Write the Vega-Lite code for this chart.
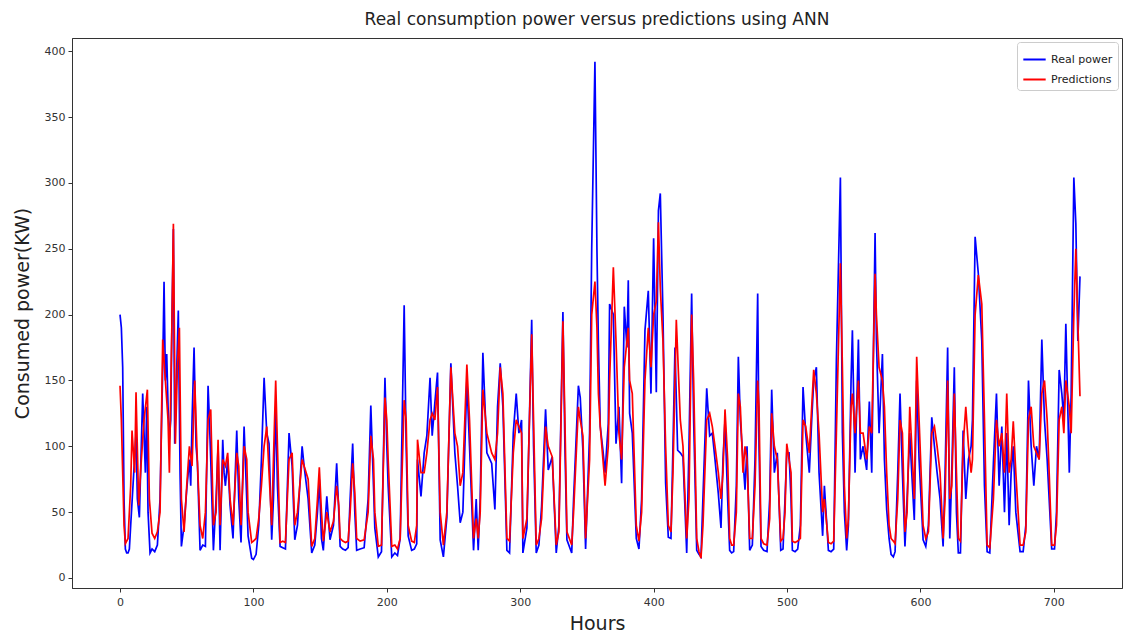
{
  "$schema": "https://vega.github.io/schema/vega-lite/v6.json",
  "autosize": {"type": "none"},
  "padding": {"left": 72, "top": 38, "right": 2, "bottom": 44},
  "width": 1050,
  "height": 550,
  "background": "white",
  "title": {"text": "Real consumption power versus predictions using ANN", "font": "DejaVu Sans", "fontSize": 17, "fontWeight": "normal", "color": "#222", "anchor": "middle", "offset": 9},
  "config": {
    "view": {"stroke": "#333", "strokeWidth": 1},
    "axis": {"labelFont": "DejaVu Sans", "labelFontSize": 11, "labelColor": "#333", "tickColor": "#333", "tickSize": 4, "domainColor": "#333", "grid": false, "titleFont": "DejaVu Sans", "titleFontSize": 19, "titleFontWeight": "normal", "titleColor": "#222"},
    "legend": {"labelFont": "DejaVu Sans", "labelFontSize": 11, "labelColor": "#222"}
  },
  "datasets": {
    "real": [
      {"hour":0,"power":200},{"hour":1,"power":190},{"hour":2,"power":160},{"hour":3,"power":60},{"hour":4,"power":22},{"hour":5,"power":19},{"hour":6,"power":19},{"hour":7,"power":22},{"hour":8,"power":40},{"hour":10,"power":75},{"hour":12,"power":110},{"hour":13,"power":60},{"hour":14.5,"power":46},{"hour":17,"power":140},{"hour":18,"power":110},{"hour":19,"power":80},{"hour":20,"power":130},{"hour":21,"power":50},{"hour":22.5,"power":19},{"hour":24,"power":22},{"hour":26,"power":20},{"hour":28,"power":25},{"hour":30,"power":60},{"hour":32,"power":160},{"hour":33,"power":225},{"hour":34,"power":150},{"hour":35,"power":170},{"hour":36,"power":130},{"hour":37,"power":105},{"hour":38,"power":120},{"hour":39,"power":200},{"hour":40,"power":265},{"hour":41,"power":102},{"hour":42,"power":140},{"hour":43.7,"power":203},{"hour":45,"power":80},{"hour":46,"power":24},{"hour":48,"power":40},{"hour":50,"power":67},{"hour":52,"power":90},{"hour":53,"power":70},{"hour":54,"power":120},{"hour":55.5,"power":175},{"hour":57,"power":100},{"hour":58,"power":88},{"hour":60,"power":21},{"hour":62,"power":25},{"hour":64,"power":24},{"hour":66,"power":146},{"hour":67,"power":120},{"hour":68,"power":90},{"hour":70,"power":21},{"hour":72,"power":60},{"hour":73.5,"power":100},{"hour":75,"power":21},{"hour":77,"power":105},{"hour":78,"power":80},{"hour":79,"power":70},{"hour":80.7,"power":90},{"hour":82.5,"power":55},{"hour":84.7,"power":30},{"hour":87.5,"power":112},{"hour":89,"power":60},{"hour":90.7,"power":27},{"hour":93,"power":115},{"hour":95,"power":60},{"hour":96,"power":32},{"hour":98.7,"power":15},{"hour":100,"power":14},{"hour":102,"power":18},{"hour":104,"power":40},{"hour":106,"power":90},{"hour":108,"power":152},{"hour":110,"power":110},{"hour":111.7,"power":102},{"hour":113.7,"power":29},{"hour":115,"power":60},{"hour":116.7,"power":130},{"hour":118,"power":70},{"hour":120,"power":24},{"hour":122,"power":23},{"hour":124,"power":22},{"hour":126.7,"power":110},{"hour":129,"power":85},{"hour":131,"power":29},{"hour":133,"power":40},{"hour":136.5,"power":100},{"hour":138,"power":85},{"hour":141,"power":60},{"hour":143.7,"power":19},{"hour":146,"power":25},{"hour":148,"power":50},{"hour":149.4,"power":75},{"hour":151,"power":30},{"hour":152.4,"power":21},{"hour":155,"power":62},{"hour":157.4,"power":29},{"hour":160,"power":40},{"hour":162.4,"power":87},{"hour":164,"power":50},{"hour":165,"power":24},{"hour":167,"power":22},{"hour":169,"power":21},{"hour":171,"power":23},{"hour":172.5,"power":60},{"hour":174.4,"power":102},{"hour":176,"power":50},{"hour":177.4,"power":21},{"hour":180,"power":22},{"hour":183,"power":23},{"hour":186,"power":60},{"hour":188,"power":131},{"hour":190,"power":70},{"hour":191,"power":38},{"hour":193.6,"power":16},{"hour":196,"power":20},{"hour":198.6,"power":152},{"hour":200,"power":100},{"hour":201,"power":70},{"hour":203.7,"power":16},{"hour":206,"power":19},{"hour":208,"power":17},{"hour":210,"power":30},{"hour":213,"power":207},{"hour":214.5,"power":100},{"hour":216,"power":32},{"hour":218.6,"power":21},{"hour":220.6,"power":22},{"hour":222.4,"power":26},{"hour":223,"power":90},{"hour":225.6,"power":62},{"hour":228,"power":95},{"hour":230,"power":108},{"hour":232.4,"power":152},{"hour":234,"power":108},{"hour":236,"power":133},{"hour":238,"power":156},{"hour":240,"power":29},{"hour":242.4,"power":16},{"hour":245,"power":46},{"hour":248,"power":163},{"hour":251,"power":95},{"hour":253,"power":70},{"hour":255,"power":42},{"hour":257,"power":50},{"hour":260,"power":150},{"hour":262,"power":100},{"hour":265,"power":21},{"hour":267,"power":60},{"hour":268.5,"power":21},{"hour":270,"power":60},{"hour":272,"power":171},{"hour":275,"power":95},{"hour":278.6,"power":87},{"hour":281,"power":52},{"hour":283,"power":130},{"hour":285,"power":163},{"hour":287,"power":130},{"hour":290,"power":21},{"hour":292,"power":19},{"hour":294.8,"power":110},{"hour":297,"power":140},{"hour":299,"power":110},{"hour":301,"power":120},{"hour":302,"power":19},{"hour":305,"power":38},{"hour":308.6,"power":196},{"hour":310,"power":100},{"hour":312,"power":19},{"hour":314,"power":25},{"hour":316,"power":54},{"hour":319,"power":128},{"hour":321,"power":82},{"hour":324,"power":92},{"hour":327,"power":19},{"hour":329,"power":40},{"hour":332,"power":202},{"hour":333.5,"power":100},{"hour":335,"power":29},{"hour":338.6,"power":19},{"hour":340,"power":60},{"hour":343.6,"power":146},{"hour":345,"power":137},{"hour":347,"power":97},{"hour":349,"power":22},{"hour":352,"power":110},{"hour":353.6,"power":251},{"hour":356,"power":392},{"hour":357.5,"power":250},{"hour":358.6,"power":178},{"hour":360,"power":115},{"hour":362,"power":97},{"hour":363.6,"power":80},{"hour":366,"power":117},{"hour":367,"power":208},{"hour":369.8,"power":200},{"hour":371.8,"power":102},{"hour":374,"power":130},{"hour":376,"power":72},{"hour":378,"power":206},{"hour":380,"power":175},{"hour":381,"power":226},{"hour":382,"power":125},{"hour":384,"power":110},{"hour":387,"power":30},{"hour":389,"power":22},{"hour":391,"power":60},{"hour":393.5,"power":188},{"hour":396,"power":218},{"hour":398,"power":140},{"hour":400,"power":258},{"hour":402,"power":141},{"hour":403.6,"power":279},{"hour":405,"power":292},{"hour":407,"power":200},{"hour":409,"power":72},{"hour":411,"power":31},{"hour":413,"power":30},{"hour":414.5,"power":100},{"hour":416,"power":175},{"hour":418,"power":97},{"hour":420,"power":95},{"hour":422,"power":92},{"hour":424.8,"power":19},{"hour":426.5,"power":100},{"hour":428.5,"power":216},{"hour":430,"power":120},{"hour":432.3,"power":21},{"hour":434,"power":18},{"hour":435.5,"power":16},{"hour":437,"power":62},{"hour":439.8,"power":144},{"hour":442,"power":108},{"hour":444,"power":110},{"hour":446,"power":90},{"hour":448.5,"power":64},{"hour":450.5,"power":38},{"hour":452,"power":90},{"hour":453.5,"power":120},{"hour":455.5,"power":60},{"hour":457,"power":21},{"hour":458.5,"power":19},{"hour":460,"power":20},{"hour":462,"power":70},{"hour":463.5,"power":168},{"hour":465,"power":120},{"hour":467,"power":90},{"hour":468.5,"power":67},{"hour":470,"power":100},{"hour":472,"power":21},{"hour":474,"power":25},{"hour":476,"power":90},{"hour":478,"power":216},{"hour":479,"power":100},{"hour":480.5,"power":24},{"hour":482.5,"power":21},{"hour":485,"power":20},{"hour":487,"power":60},{"hour":488.5,"power":143},{"hour":490.5,"power":80},{"hour":492.7,"power":95},{"hour":495.3,"power":21},{"hour":497,"power":22},{"hour":498.5,"power":60},{"hour":499.8,"power":95},{"hour":501.5,"power":95},{"hour":503,"power":60},{"hour":504,"power":21},{"hour":506,"power":20},{"hour":508,"power":22},{"hour":510,"power":40},{"hour":512,"power":145},{"hour":514,"power":110},{"hour":516.7,"power":80},{"hour":518.5,"power":120},{"hour":520,"power":150},{"hour":522,"power":160},{"hour":524,"power":80},{"hour":526.7,"power":32},{"hour":528,"power":70},{"hour":531,"power":21},{"hour":533,"power":20},{"hour":535,"power":22},{"hour":537,"power":165},{"hour":540,"power":304},{"hour":541.5,"power":110},{"hour":543,"power":50},{"hour":544.7,"power":21},{"hour":546,"power":40},{"hour":548,"power":150},{"hour":549,"power":188},{"hour":551,"power":80},{"hour":553.5,"power":181},{"hour":555,"power":90},{"hour":557,"power":100},{"hour":559.7,"power":82},{"hour":561.7,"power":134},{"hour":563.5,"power":80},{"hour":566,"power":262},{"hour":567,"power":181},{"hour":569,"power":110},{"hour":571.5,"power":170},{"hour":573,"power":90},{"hour":574.7,"power":52},{"hour":576.5,"power":30},{"hour":578,"power":18},{"hour":579.7,"power":16},{"hour":581,"power":20},{"hour":583,"power":80},{"hour":584.7,"power":140},{"hour":586.5,"power":80},{"hour":588.4,"power":24},{"hour":590,"power":60},{"hour":592,"power":110},{"hour":593.5,"power":80},{"hour":595.4,"power":44},{"hour":597.2,"power":150},{"hour":599,"power":90},{"hour":602,"power":29},{"hour":604,"power":24},{"hour":606,"power":40},{"hour":608.5,"power":122},{"hour":610.5,"power":100},{"hour":612.5,"power":80},{"hour":614.7,"power":60},{"hour":617,"power":24},{"hour":618.5,"power":80},{"hour":620.4,"power":175},{"hour":622,"power":30},{"hour":623.5,"power":80},{"hour":625.4,"power":160},{"hour":627,"power":50},{"hour":628.4,"power":19},{"hour":630,"power":19},{"hour":632,"power":112},{"hour":634,"power":60},{"hour":636,"power":90},{"hour":638,"power":100},{"hour":639,"power":120},{"hour":641,"power":259},{"hour":643.4,"power":231},{"hour":646,"power":180},{"hour":648,"power":70},{"hour":650,"power":20},{"hour":652,"power":19},{"hour":654.7,"power":87},{"hour":657,"power":140},{"hour":659,"power":70},{"hour":661,"power":115},{"hour":663,"power":50},{"hour":664.7,"power":110},{"hour":666.5,"power":40},{"hour":668,"power":80},{"hour":669.6,"power":100},{"hour":671.5,"power":50},{"hour":674.7,"power":20},{"hour":677,"power":20},{"hour":679,"power":40},{"hour":681,"power":150},{"hour":683,"power":100},{"hour":685,"power":70},{"hour":687,"power":100},{"hour":689,"power":90},{"hour":691,"power":181},{"hour":693,"power":120},{"hour":695,"power":90},{"hour":696.5,"power":60},{"hour":698.4,"power":22},{"hour":700.5,"power":22},{"hour":702,"power":50},{"hour":704,"power":158},{"hour":706,"power":140},{"hour":707.5,"power":120},{"hour":709,"power":193},{"hour":711.6,"power":80},{"hour":713,"power":140},{"hour":715,"power":304},{"hour":716.5,"power":269},{"hour":718,"power":180},{"hour":719.6,"power":229}
    ],
    "pred": [
      {"hour":0,"power":146},{"hour":1,"power":120},{"hour":2,"power":80},{"hour":3,"power":40},{"hour":4,"power":26},{"hour":6,"power":30},{"hour":8,"power":70},{"hour":9,"power":112},{"hour":11,"power":80},{"hour":12,"power":141},{"hour":14,"power":55},{"hour":16,"power":90},{"hour":18,"power":120},{"hour":20.5,"power":143},{"hour":22,"power":60},{"hour":24,"power":34},{"hour":26,"power":30},{"hour":28,"power":35},{"hour":30,"power":50},{"hour":32,"power":181},{"hour":34,"power":150},{"hour":36,"power":120},{"hour":37,"power":80},{"hour":39,"power":200},{"hour":40,"power":269},{"hour":41.5,"power":102},{"hour":43,"power":160},{"hour":44.5,"power":190},{"hour":46,"power":60},{"hour":48,"power":35},{"hour":50,"power":70},{"hour":52,"power":100},{"hour":54,"power":85},{"hour":56,"power":150},{"hour":58,"power":88},{"hour":60,"power":40},{"hour":62,"power":30},{"hour":64,"power":50},{"hour":66,"power":120},{"hour":68,"power":128},{"hour":70,"power":40},{"hour":72,"power":50},{"hour":73.5,"power":105},{"hour":75,"power":40},{"hour":77,"power":90},{"hour":79,"power":85},{"hour":80.7,"power":95},{"hour":82.5,"power":60},{"hour":84.7,"power":40},{"hour":87.5,"power":95},{"hour":89,"power":85},{"hour":90.7,"power":40},{"hour":93,"power":100},{"hour":95,"power":90},{"hour":96,"power":50},{"hour":98.7,"power":27},{"hour":100,"power":28},{"hour":102,"power":30},{"hour":104,"power":45},{"hour":106,"power":70},{"hour":108,"power":100},{"hour":110,"power":115},{"hour":111.7,"power":80},{"hour":113.7,"power":40},{"hour":115,"power":90},{"hour":116.7,"power":150},{"hour":118,"power":100},{"hour":120,"power":27},{"hour":122,"power":28},{"hour":124,"power":27},{"hour":126.7,"power":90},{"hour":129,"power":95},{"hour":131,"power":40},{"hour":133,"power":50},{"hour":136.5,"power":90},{"hour":138,"power":85},{"hour":141,"power":75},{"hour":143.7,"power":24},{"hour":146,"power":30},{"hour":148,"power":60},{"hour":149.4,"power":84},{"hour":151,"power":50},{"hour":152.4,"power":28},{"hour":155,"power":50},{"hour":157.4,"power":35},{"hour":160,"power":43},{"hour":162.4,"power":70},{"hour":164,"power":55},{"hour":165,"power":30},{"hour":167,"power":28},{"hour":169,"power":27},{"hour":171,"power":28},{"hour":172.5,"power":50},{"hour":174.4,"power":87},{"hour":176,"power":65},{"hour":177.4,"power":30},{"hour":180,"power":28},{"hour":183,"power":29},{"hour":186,"power":50},{"hour":188,"power":108},{"hour":190,"power":90},{"hour":191,"power":50},{"hour":193.6,"power":24},{"hour":196,"power":25},{"hour":198.6,"power":137},{"hour":200,"power":120},{"hour":201,"power":90},{"hour":203.7,"power":24},{"hour":206,"power":25},{"hour":208,"power":22},{"hour":210,"power":30},{"hour":213,"power":135},{"hour":214.5,"power":120},{"hour":216,"power":40},{"hour":218.6,"power":28},{"hour":220.6,"power":27},{"hour":222.4,"power":40},{"hour":223,"power":105},{"hour":225.6,"power":80},{"hour":228,"power":80},{"hour":230,"power":95},{"hour":232.4,"power":120},{"hour":234,"power":125},{"hour":236,"power":120},{"hour":238,"power":145},{"hour":240,"power":50},{"hour":242.4,"power":25},{"hour":245,"power":50},{"hour":248,"power":160},{"hour":251,"power":110},{"hour":253,"power":100},{"hour":255,"power":70},{"hour":257,"power":80},{"hour":260,"power":162},{"hour":262,"power":120},{"hour":265,"power":30},{"hour":267,"power":45},{"hour":268.5,"power":30},{"hour":270,"power":50},{"hour":272,"power":143},{"hour":275,"power":110},{"hour":278.6,"power":95},{"hour":281,"power":90},{"hour":283,"power":110},{"hour":285,"power":160},{"hour":287,"power":140},{"hour":290,"power":30},{"hour":292,"power":28},{"hour":294.8,"power":95},{"hour":297,"power":120},{"hour":299,"power":115},{"hour":301,"power":110},{"hour":302,"power":30},{"hour":305,"power":45},{"hour":308.6,"power":185},{"hour":310,"power":120},{"hour":312,"power":25},{"hour":314,"power":30},{"hour":316,"power":45},{"hour":319,"power":115},{"hour":321,"power":100},{"hour":324,"power":92},{"hour":327,"power":25},{"hour":329,"power":35},{"hour":332,"power":195},{"hour":333.5,"power":120},{"hour":335,"power":35},{"hour":338.6,"power":25},{"hour":340,"power":50},{"hour":343.6,"power":130},{"hour":345,"power":120},{"hour":347,"power":108},{"hour":349,"power":30},{"hour":352,"power":90},{"hour":353.6,"power":200},{"hour":356,"power":225},{"hour":357.5,"power":190},{"hour":358.6,"power":140},{"hour":360,"power":115},{"hour":362,"power":90},{"hour":363.6,"power":70},{"hour":366,"power":100},{"hour":367,"power":150},{"hour":369.8,"power":236},{"hour":371.8,"power":180},{"hour":374,"power":110},{"hour":376,"power":90},{"hour":378,"power":160},{"hour":380,"power":180},{"hour":381,"power":190},{"hour":382,"power":150},{"hour":384,"power":140},{"hour":387,"power":40},{"hour":389,"power":28},{"hour":391,"power":50},{"hour":393.5,"power":150},{"hour":396,"power":190},{"hour":398,"power":160},{"hour":400,"power":200},{"hour":402,"power":210},{"hour":403.6,"power":270},{"hour":405,"power":220},{"hour":407,"power":180},{"hour":409,"power":100},{"hour":411,"power":40},{"hour":413,"power":35},{"hour":414.5,"power":80},{"hour":416,"power":150},{"hour":417,"power":196},{"hour":420,"power":120},{"hour":422,"power":100},{"hour":424.8,"power":30},{"hour":426.5,"power":60},{"hour":428.5,"power":200},{"hour":430,"power":150},{"hour":432.3,"power":30},{"hour":434,"power":20},{"hour":435.5,"power":15},{"hour":437,"power":40},{"hour":439.8,"power":120},{"hour":442,"power":125},{"hour":444,"power":115},{"hour":446,"power":100},{"hour":448.5,"power":80},{"hour":450.5,"power":60},{"hour":452,"power":80},{"hour":453.5,"power":128},{"hour":455.5,"power":90},{"hour":457,"power":30},{"hour":458.5,"power":25},{"hour":460,"power":25},{"hour":462,"power":50},{"hour":463.5,"power":140},{"hour":465,"power":130},{"hour":467,"power":80},{"hour":468.5,"power":100},{"hour":470,"power":90},{"hour":472,"power":30},{"hour":474,"power":30},{"hour":476,"power":70},{"hour":478,"power":150},{"hour":479,"power":130},{"hour":480.5,"power":30},{"hour":482.5,"power":26},{"hour":485,"power":25},{"hour":487,"power":45},{"hour":488.5,"power":125},{"hour":490.5,"power":100},{"hour":492.7,"power":90},{"hour":495.3,"power":28},{"hour":497,"power":30},{"hour":498.5,"power":50},{"hour":499.8,"power":102},{"hour":501.5,"power":90},{"hour":503,"power":80},{"hour":504,"power":28},{"hour":506,"power":27},{"hour":508,"power":28},{"hour":510,"power":30},{"hour":512,"power":120},{"hour":514,"power":115},{"hour":516.7,"power":95},{"hour":518.5,"power":130},{"hour":520,"power":158},{"hour":522,"power":140},{"hour":524,"power":110},{"hour":526.7,"power":50},{"hour":528,"power":60},{"hour":531,"power":27},{"hour":533,"power":26},{"hour":535,"power":28},{"hour":537,"power":110},{"hour":540,"power":239},{"hour":541.5,"power":160},{"hour":543,"power":70},{"hour":544.7,"power":30},{"hour":546,"power":45},{"hour":548,"power":130},{"hour":549,"power":140},{"hour":551,"power":110},{"hour":553.5,"power":150},{"hour":555,"power":110},{"hour":557,"power":110},{"hour":559.7,"power":90},{"hour":561.7,"power":115},{"hour":563.5,"power":110},{"hour":566,"power":231},{"hour":567,"power":200},{"hour":569,"power":160},{"hour":571.5,"power":150},{"hour":573,"power":130},{"hour":574.7,"power":80},{"hour":576.5,"power":40},{"hour":578,"power":30},{"hour":579.7,"power":28},{"hour":581,"power":26},{"hour":583,"power":60},{"hour":584.7,"power":120},{"hour":586.5,"power":110},{"hour":588.4,"power":35},{"hour":590,"power":50},{"hour":592,"power":130},{"hour":593.5,"power":100},{"hour":595.4,"power":60},{"hour":597.2,"power":168},{"hour":599,"power":120},{"hour":602,"power":40},{"hour":604,"power":30},{"hour":606,"power":35},{"hour":608.5,"power":110},{"hour":610.5,"power":115},{"hour":612.5,"power":100},{"hour":614.7,"power":80},{"hour":617,"power":30},{"hour":618.5,"power":60},{"hour":620.4,"power":150},{"hour":622,"power":60},{"hour":623.5,"power":70},{"hour":625.4,"power":140},{"hour":627,"power":80},{"hour":628.4,"power":30},{"hour":630,"power":28},{"hour":632,"power":100},{"hour":634,"power":130},{"hour":636,"power":100},{"hour":638,"power":80},{"hour":639,"power":90},{"hour":641,"power":200},{"hour":643.4,"power":230},{"hour":646,"power":208},{"hour":648,"power":120},{"hour":650,"power":25},{"hour":652,"power":23},{"hour":654.7,"power":60},{"hour":657,"power":120},{"hour":659,"power":100},{"hour":661,"power":110},{"hour":663,"power":80},{"hour":664.7,"power":140},{"hour":666.5,"power":80},{"hour":668,"power":90},{"hour":669.6,"power":119},{"hour":671.5,"power":80},{"hour":674.7,"power":25},{"hour":677,"power":25},{"hour":679,"power":35},{"hour":681,"power":120},{"hour":683,"power":130},{"hour":685,"power":100},{"hour":687,"power":95},{"hour":689,"power":90},{"hour":691,"power":140},{"hour":693,"power":150},{"hour":695,"power":120},{"hour":696.5,"power":80},{"hour":698.4,"power":25},{"hour":700.5,"power":25},{"hour":702,"power":40},{"hour":704,"power":120},{"hour":706,"power":130},{"hour":707.5,"power":110},{"hour":709,"power":150},{"hour":711.6,"power":130},{"hour":713,"power":110},{"hour":715,"power":200},{"hour":716.5,"power":250},{"hour":718,"power":195},{"hour":719.6,"power":138}
    ]
  },
  "encoding": {
    "x": {"field": "hour", "type": "quantitative", "title": "Hours", "scale": {"domain": [-36, 751.1], "nice": false, "zero": false},
      "axis": {"values": [0,100,200,300,400,500,600,700], "titlePadding": 7, "labelPadding": 4}},
    "y": {"field": "power", "type": "quantitative", "title": "Consumed power(KW)", "scale": {"domain": [-7.6, 410], "nice": false, "zero": false},
      "axis": {"values": [0,50,100,150,200,250,300,350,400], "titlePadding": 12, "labelPadding": 3}}
  },
  "layer": [
    {"data": {"name": "real"}, "mark": {"type": "line", "strokeWidth": 1.7, "interpolate": "linear"},
     "encoding": {"color": {"datum": "Real power", "type": "nominal", "scale": {"domain": ["Real power", "Predictions"], "range": ["#0000ff", "#ff0000"]},
       "legend": {"title": null, "orient": "top-right", "offset": 4, "symbolType": "stroke", "symbolSize": 500, "symbolStrokeWidth": 2, "strokeColor": "#ccc", "fillColor": "white", "padding": 5, "cornerRadius": 3, "rowPadding": 2}}}},
    {"data": {"name": "pred"}, "mark": {"type": "line", "strokeWidth": 1.7, "interpolate": "linear"},
     "encoding": {"color": {"datum": "Predictions", "type": "nominal"}}}
  ]
}
